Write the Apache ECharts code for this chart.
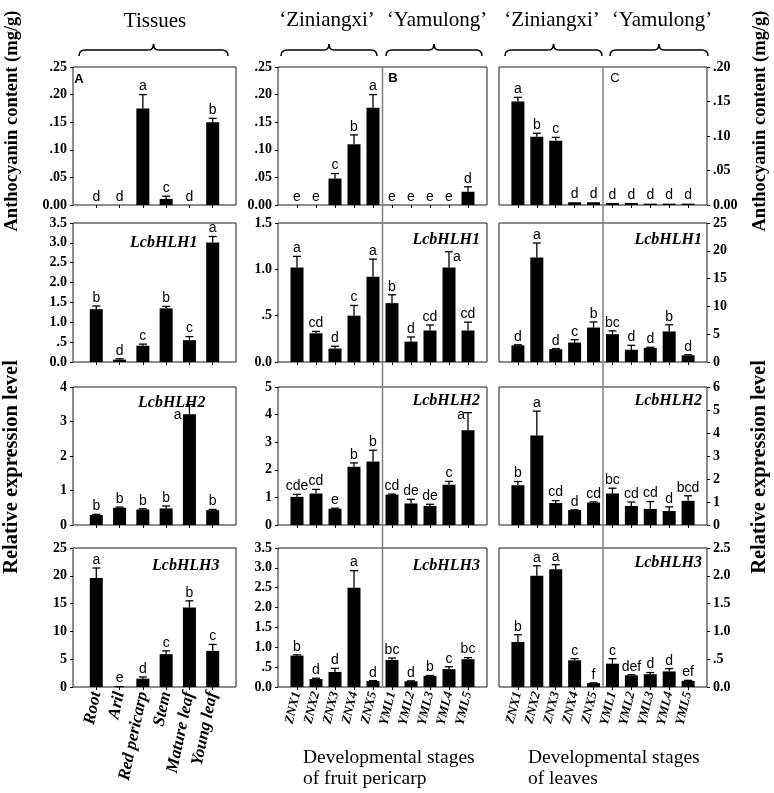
<!DOCTYPE html>
<html><head><meta charset="utf-8">
<script src="https://cdn.jsdelivr.net/npm/echarts/dist/echarts.min.js"></script>
<style>html,body{margin:0;padding:0;background:#fff}#c{width:774px;height:793px}</style>
</head><body><div id="c"></div>
<script>
// ---------- categories ----------
const tissues = ['Root', 'Aril', 'Red pericarp', 'Stem', 'Mature leaf', 'Young leaf'];
const stages = ['ZNX1', 'ZNX2', 'ZNX3', 'ZNX4', 'ZNX5', 'YML1', 'YML2', 'YML3', 'YML4', 'YML5'];

// ---------- Anthocyanin content (mg/g) ----------
const anthTissueVal = [0, 0, 0.175, 0.011, 0, 0.150];
const anthTissueErr = [0, 0, 0.025, 0.005, 0, 0.007];
const anthTissueSig = ['d', 'd', 'a', 'c', 'd', 'b'];
const anthPericarpVal = [0, 0, 0.048, 0.110, 0.176, 0, 0, 0, 0, 0.024];
const anthPericarpErr = [0, 0, 0.009, 0.017, 0.024, 0, 0, 0, 0, 0.009];
const anthPericarpSig = ['e', 'e', 'c', 'b', 'a', 'e', 'e', 'e', 'e', 'd'];
const anthLeafVal = [0.150, 0.099, 0.093, 0.004, 0.004, 0.003, 0.003, 0.002, 0.002, 0.002];
const anthLeafErr = [0.006, 0.005, 0.005, 0, 0, 0, 0, 0, 0, 0];
const anthLeafSig = ['a', 'b', 'c', 'd', 'd', 'd', 'd', 'd', 'd', 'd'];

// ---------- LcbHLH1 ----------
const h1TissueVal = [1.33, 0.06, 0.41, 1.35, 0.55, 3.01];
const h1TissueErr = [0.08, 0.02, 0.04, 0.05, 0.09, 0.15];
const h1TissueSig = ['b', 'd', 'c', 'b', 'c', 'a'];
const h1PericarpVal = [1.02, 0.31, 0.145, 0.50, 0.92, 0.635, 0.22, 0.34, 1.02, 0.34];
const h1PericarpErr = [0.12, 0.02, 0.025, 0.11, 0.19, 0.09, 0.05, 0.06, 0.17, 0.09];
const h1PericarpSig = ['a', 'cd', 'd', 'c', 'a', 'b', 'd', 'cd', 'a', 'cd'];
const h1LeafVal = [3.0, 18.8, 2.3, 3.5, 6.2, 5.0, 2.2, 2.55, 5.5, 1.2];
const h1LeafErr = [0.1, 2.6, 0.1, 0.5, 1.0, 0.6, 0.8, 0.1, 1.2, 0.1];
const h1LeafSig = ['d', 'a', 'd', 'c', 'b', 'bc', 'd', 'd', 'b', 'd'];

// ---------- LcbHLH2 ----------
const h2TissueVal = [0.29, 0.50, 0.45, 0.48, 3.21, 0.43];
const h2TissueErr = [0.02, 0.02, 0.02, 0.07, 0.28, 0.02];
const h2TissueSig = ['b', 'b', 'b', 'b', 'a', 'b'];
const h2PericarpVal = [1.02, 1.14, 0.59, 2.11, 2.30, 1.10, 0.78, 0.69, 1.46, 3.43];
const h2PericarpErr = [0.09, 0.15, 0.02, 0.14, 0.41, 0.02, 0.15, 0.06, 0.12, 0.64];
const h2PericarpSig = ['cde', 'cd', 'e', 'b', 'b', 'cd', 'de', 'de', 'c', 'a'];
const h2LeafVal = [1.73, 3.89, 0.96, 0.65, 0.975, 1.37, 0.83, 0.70, 0.61, 1.05];
const h2LeafErr = [0.16, 1.06, 0.10, 0.01, 0.03, 0.23, 0.17, 0.32, 0.18, 0.22];
const h2LeafSig = ['b', 'a', 'cd', 'd', 'cd', 'bc', 'cd', 'cd', 'd', 'bcd'];

// ---------- LcbHLH3 ----------
const h3TissueVal = [19.6, 0.05, 1.5, 5.9, 14.3, 6.5];
const h3TissueErr = [1.8, 0.02, 0.3, 0.6, 1.2, 1.15];
const h3TissueSig = ['a', 'e', 'd', 'c', 'b', 'c'];
const h3PericarpVal = [0.79, 0.20, 0.38, 2.50, 0.15, 0.68, 0.145, 0.28, 0.45, 0.70];
const h3PericarpErr = [0.02, 0.02, 0.09, 0.43, 0.01, 0.05, 0.01, 0.01, 0.06, 0.04];
const h3PericarpSig = ['b', 'd', 'd', 'a', 'd', 'bc', 'd', 'b', 'c', 'bc'];
const h3LeafVal = [0.81, 2.00, 2.12, 0.48, 0.07, 0.42, 0.21, 0.23, 0.28, 0.11];
const h3LeafErr = [0.13, 0.18, 0.08, 0.03, 0.005, 0.09, 0.01, 0.03, 0.05, 0.01];
const h3LeafSig = ['b', 'a', 'a', 'c', 'f', 'c', 'def', 'd', 'd', 'ef'];

// ---------- y axis tick specs (rows x columns) ----------
const yMax = [[0.25, 0.25, 0.20], [3.5, 1.5, 25], [4, 5, 6], [25, 3.5, 2.5]];
const yStep = [[0.05, 0.05, 0.05], [0.5, 0.5, 5], [1, 1, 1], [5, 0.5, 0.5]];
const yDec = [[2, 2, 2], [1, 1, 0], [0, 0, 0], [0, 1, 1]];
const geneNames = ['', 'LcbHLH1', 'LcbHLH2', 'LcbHLH3'];

const rows = [
  [[tissues, anthTissueVal, anthTissueErr, anthTissueSig], [stages, anthPericarpVal, anthPericarpErr, anthPericarpSig], [stages, anthLeafVal, anthLeafErr, anthLeafSig]],
  [[tissues, h1TissueVal, h1TissueErr, h1TissueSig], [stages, h1PericarpVal, h1PericarpErr, h1PericarpSig], [stages, h1LeafVal, h1LeafErr, h1LeafSig]],
  [[tissues, h2TissueVal, h2TissueErr, h2TissueSig], [stages, h2PericarpVal, h2PericarpErr, h2PericarpSig], [stages, h2LeafVal, h2LeafErr, h2LeafSig]],
  [[tissues, h3TissueVal, h3TissueErr, h3TissueSig], [stages, h3PericarpVal, h3PericarpErr, h3PericarpSig], [stages, h3LeafVal, h3LeafErr, h3LeafSig]]
];

// ---------- layout / style ----------
const SERIF = '"Liberation Serif", "Times New Roman", serif';
const SANS = '"Liberation Sans", Arial, sans-serif';
const colLeft = [73, 278, 499], colWidth = [163, 209, 208];
const rowTop = [67, 223, 387, 548], rowHeight = [138, 139, 138, 139];
// special letter placements: key r-c-i -> [dx, dy, align, vAlign]
const labelShift = {
  '1-1-8': [4, 5, 'left', 'middle'],
  '2-0-4': [-8, 11, 'right', 'middle'],
  '2-1-9': [-3, 2, 'right', 'middle']
};
const genePos = [
  null,
  [[130, 243, 'left'], [480, 240, 'right'], [702, 240, 'right']],
  [[138, 403, 'left'], [480, 401, 'right'], [702, 401, 'right']],
  [[152, 566, 'left'], [480, 566, 'right'], [702, 563, 'right']]
];

function fmt(d) {
  return function (v) {
    let s = (Math.round(v * 1e6) / 1e6).toFixed(d);
    if (v > 1e-9 && v < 1) s = s.replace(/^0/, '');
    return s;
  };
}

function makeRender(r, c, sigs) {
  return function (params, api) {
    const i = params.dataIndex;
    const x = api.value(0), v = api.value(1), e = api.value(2);
    const p0 = api.coord([x, v]);
    const p1 = api.coord([x, v + e]);
    const children = [];
    if (e > 0) {
      children.push({ type: 'line', shape: { x1: p0[0], y1: p0[1], x2: p1[0], y2: p1[1] }, style: { stroke: '#000', lineWidth: 1.3 } });
      children.push({ type: 'line', shape: { x1: p1[0] - 4, y1: p1[1], x2: p1[0] + 4, y2: p1[1] }, style: { stroke: '#000', lineWidth: 1.3 } });
    }
    const sh = labelShift[r + '-' + c + '-' + i];
    let tx = p1[0], ty = p1[1] - 1, al = 'center', va = 'bottom';
    if (sh) { tx = p1[0] + sh[0]; ty = p1[1] + sh[1]; al = sh[2]; va = sh[3]; }
    children.push({ type: 'text', x: tx, y: ty, style: { text: sigs[i], fill: '#000', font: '14px ' + SANS, align: al, verticalAlign: va } });
    return { type: 'group', children: children };
  };
}

const grids = [], xAxes = [], yAxes = [], series = [];
for (let r = 0; r < 4; r++) {
  for (let c = 0; c < 3; c++) {
    const k = r * 3 + c;
    const [cats, vals, errs, sigs] = rows[r][c];
    const n = cats.length;
    grids.push({ left: colLeft[c], top: rowTop[r], width: colWidth[c], height: rowHeight[r], show: true, borderColor: '#1a1a1a', borderWidth: 1, backgroundColor: 'transparent' });
    const inner = function (idx) { return idx > 0 && idx <= n; };
    xAxes.push({
      gridIndex: k, type: 'category', data: [''].concat(cats, ['']), boundaryGap: false,
      axisLine: { show: false },
      axisTick: { show: true, length: 3, interval: inner, lineStyle: { color: '#000', width: 1 } },
      axisLabel: r === 3 ? {
        show: true, interval: inner, rotate: c === 0 ? 78 : 76, margin: 5, color: '#000',
        fontFamily: SERIF, fontWeight: 'bold', fontStyle: 'italic', fontSize: c === 0 ? 17 : 13
      } : { show: false },
      splitLine: { show: false }
    });
    yAxes.push({
      gridIndex: k, type: 'value', min: 0, max: yMax[r][c], interval: yStep[r][c],
      position: c === 2 ? 'right' : 'left',
      axisLine: { show: false },
      axisTick: { show: true, length: 3, lineStyle: { color: '#000', width: 1 } },
      splitLine: { show: false },
      axisLabel: { formatter: fmt(yDec[r][c]), color: '#000', fontFamily: SERIF, fontWeight: 'bold', fontSize: 14, margin: 6 }
    });
    series.push({
      type: 'bar', xAxisIndex: k, yAxisIndex: k, barWidth: 13, itemStyle: { color: '#000' },
      data: vals.map(function (v, i) { return [i + 1, v]; }), animation: false
    });
    series.push({
      type: 'custom', xAxisIndex: k, yAxisIndex: k, z: 5, animation: false,
      data: vals.map(function (v, i) { return [i + 1, v, errs[i]]; }),
      renderItem: makeRender(r, c, sigs)
    });
  }
}

const chart = echarts.init(document.getElementById('c'), null, { renderer: 'canvas' });
chart.setOption({ animation: false, backgroundColor: '#fff', grid: grids, xAxis: xAxes, yAxis: yAxes, series: series });

// ---------- decorations ----------
const g = [];
function text(x, y, s, font, opts) {
  const o = { type: 'text', x: x, y: y, z: 10, style: { text: s, font: font, fill: '#000', align: 'center', verticalAlign: 'middle' } };
  if (opts) { if (opts.rotation) o.rotation = opts.rotation; if (opts.align) o.style.align = opts.align; }
  g.push(o);
}
const braceStyle = { stroke: '#000', lineWidth: 1.5, fill: null };
function curve(x1, y1, cx, cy, x2, y2) {
  g.push({ type: 'bezierCurve', z: 10, shape: { x1: x1, y1: y1, cpx1: cx, cpy1: cy, x2: x2, y2: y2 }, style: braceStyle });
}
function seg(x1, y1, x2, y2) {
  g.push({ type: 'line', z: 10, shape: { x1: x1, y1: y1, x2: x2, y2: y2 }, style: braceStyle });
}
function brace(x1, x2) {
  const m = (x1 + x2) / 2;
  curve(x1, 56, x1, 50, x1 + 6, 50);
  seg(x1 + 6, 50, m - 5, 50);
  curve(m - 5, 50, m, 50, m, 44);
  curve(m, 44, m, 50, m + 5, 50);
  seg(m + 5, 50, x2 - 6, 50);
  curve(x2 - 6, 50, x2, 50, x2, 56);
}
text(155, 21, 'Tissues', '21px ' + SERIF);
text(327, 20, '\u2018Ziniangxi\u2019', '21px ' + SERIF);
text(437, 20, '\u2018Yamulong\u2019', '21px ' + SERIF);
text(552, 20, '\u2018Ziniangxi\u2019', '21px ' + SERIF);
text(662, 20, '\u2018Yamulong\u2019', '21px ' + SERIF);
brace(79, 228); brace(281, 377); brace(386, 482); brace(505, 602); brace(610, 708);

text(12, 121, 'Anthocyanin content (mg/g)', 'bold 18.5px ' + SERIF, { rotation: Math.PI / 2 });
text(12, 467, 'Relative expression level', 'bold 20.5px ' + SERIF, { rotation: Math.PI / 2 });
text(760, 121, 'Anthocyanin content (mg/g)', 'bold 18.5px ' + SERIF, { rotation: Math.PI / 2 });
text(760, 467, 'Relative expression level', 'bold 20.5px ' + SERIF, { rotation: Math.PI / 2 });

text(79, 79, 'A', 'bold 13px ' + SANS);
text(393, 78, 'B', 'bold 13px ' + SANS);
text(615, 78, 'C', '13px ' + SANS);

for (let r = 1; r < 4; r++) {
  for (let c = 0; c < 3; c++) {
    const p = genePos[r][c];
    text(p[0], p[1], geneNames[r], 'italic bold 16px ' + SERIF, { align: p[2] });
  }
}

text(303, 758, 'Developmental stages', '19.5px ' + SERIF, { align: 'left' });
text(303, 779, 'of fruit pericarp', '19.5px ' + SERIF, { align: 'left' });
text(528, 758, 'Developmental stages', '19.5px ' + SERIF, { align: 'left' });
text(528, 779, 'of leaves', '19.5px ' + SERIF, { align: 'left' });

// divider between cultivars, placed from the category scale
[1, 2].forEach(function (c) {
  const a = chart.convertToPixel({ xAxisIndex: c }, 5);
  const b = chart.convertToPixel({ xAxisIndex: c }, 6);
  const x = (a + b) / 2;
  g.push({ type: 'line', z: 8, shape: { x1: x, y1: rowTop[0], x2: x, y2: rowTop[3] + rowHeight[3] }, style: { stroke: '#808080', lineWidth: 1.5 } });
});

chart.setOption({ graphic: g });
</script></body></html>
